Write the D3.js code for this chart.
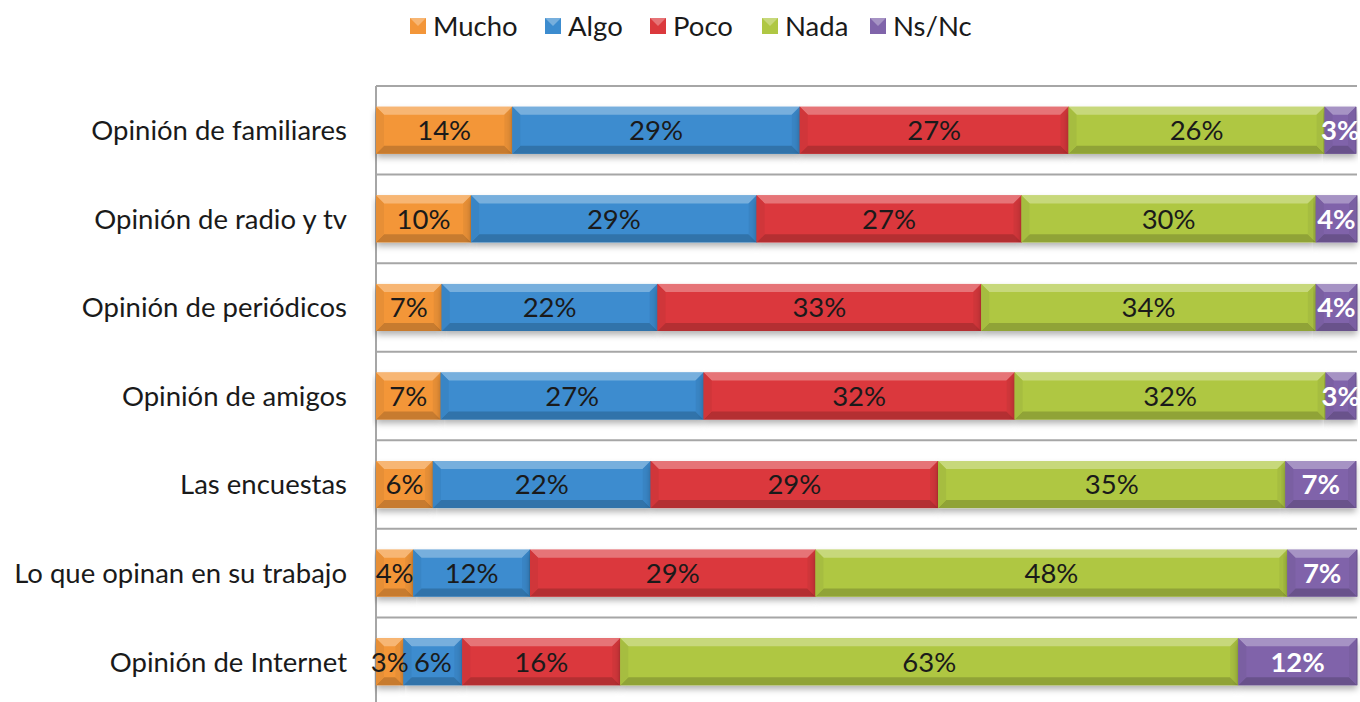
<!DOCTYPE html>
<html><head><meta charset="utf-8">
<script src="https://cdn.jsdelivr.net/npm/d3@7"></script>
<style>
html,body{margin:0;padding:0;background:#fff;}
svg{display:block;font-family:Lato,"Open Sans",sans-serif;}
</style></head>
<body><svg id="chart" width="1360" height="702"></svg>
<script>
const categories = ["Opinión de familiares","Opinión de radio y tv","Opinión de periódicos","Opinión de amigos","Las encuestas","Lo que opinan en su trabajo","Opinión de Internet"];
const seriesNames = ["Mucho","Algo","Poco","Nada","Ns/Nc"];
const mucho = [13.9, 9.7, 6.7, 6.6, 5.8, 3.8, 2.8];
const algo  = [29.3, 29.1, 22.0, 26.8, 22.2, 11.9, 6.0];
const poco  = [27.4, 27.0, 33.0, 31.7, 29.3, 29.1, 16.1];
const nada  = [26.1, 30.0, 34.1, 31.7, 35.4, 48.1, 63.0];
const nsnc  = [3.2, 4.2, 4.2, 3.1, 7.2, 7.1, 12.1];
const colors = ["#F39639","#3C8CCF","#DB393D","#AFC743","#8064AA"];

const seriesVals = [mucho, algo, poco, nada, nsnc];
const rows = categories.map((c,i)=>{const o={cat:c}; seriesNames.forEach((s,j)=>o[s]=seriesVals[j][i]); return o;});
const stack = d3.stack().keys(seriesNames)(rows);

const FS = 27.5;
const svg = d3.select("#chart");
const x = d3.scaleLinear().domain([0,100]).range([376,1357]);
const y = d3.scaleBand().domain(categories).range([86,706]).paddingInner(0.47).paddingOuter(0.235);

const defs = svg.append("defs");
const f = defs.append("filter").attr("id","sh").attr("x","-5%").attr("y","-30%").attr("width","110%").attr("height","180%");
f.append("feDropShadow").attr("dx",0).attr("dy",4).attr("stdDeviation",3).attr("flood-color","#000").attr("flood-opacity",0.3);

const step = y.step();
const bounds = d3.range(categories.length).map(i=>86+i*step);
svg.append("g").selectAll("line").data(bounds).join("line")
  .attr("x1",376).attr("x2",1357).attr("y1",d=>d).attr("y2",d=>d)
  .attr("stroke","#a6a6a6").attr("stroke-width",2);
svg.append("line").attr("x1",376).attr("x2",376).attr("y1",86).attr("y2",706).attr("stroke","#a6a6a6").attr("stroke-width",2);

const bev = 8;
stack.forEach((layer,j)=>{
  const light = d3.interpolateRgb(colors[j],"#fff")(0.3);
  const dark = d3.interpolateRgb(colors[j],"#000")(0.18);
  const side = d3.interpolateRgb(colors[j],"#000")(0.05);
  const g = svg.append("g");
  layer.forEach((d,i)=>{
    const x0 = x(d[0]), x1 = x(d[1]), y0 = y(categories[i]), h = y.bandwidth(), y1 = y0+h;
    const b = Math.min(bev, (x1-x0)/2);
    g.append("rect").attr("x",x0).attr("y",y0).attr("width",x1-x0).attr("height",h).attr("fill",colors[j]).attr("filter","url(#sh)");
    g.append("path").attr("d",`M${x0},${y0}L${x1},${y0}L${x1-b},${y0+bev}L${x0+b},${y0+bev}Z`).attr("fill",light);
    g.append("path").attr("d",`M${x0},${y1}L${x1},${y1}L${x1-b},${y1-bev}L${x0+b},${y1-bev}Z`).attr("fill",dark);
    g.append("path").attr("d",`M${x0},${y0}L${x0+b},${y0+bev}L${x0+b},${y1-bev}L${x0},${y1}Z`).attr("fill",side);
    g.append("path").attr("d",`M${x1},${y0}L${x1-b},${y0+bev}L${x1-b},${y1-bev}L${x1},${y1}Z`).attr("fill",side);
    g.append("line").attr("x1",x1).attr("x2",x1).attr("y1",y0).attr("y2",y1).attr("stroke",dark).attr("stroke-width",1);
  });
});

stack.forEach((layer,j)=>{
  svg.append("g").selectAll("text").data(layer).join("text")
    .attr("x",d=>(x(d[0])+x(d[1]))/2)
    .attr("y",(d,i)=>y(categories[i])+y.bandwidth()/2)
    .attr("dy","0.36em").attr("text-anchor","middle")
    .attr("font-size",FS)
    .attr("font-weight", j===4?700:400)
    .attr("fill", j===4?"#fff":"#1a1a1a")
    .text(d=>Math.round(d[1]-d[0])+"%");
});

svg.append("g").selectAll("text").data(categories).join("text")
  .attr("x",347).attr("y",d=>y(d)+y.bandwidth()/2).attr("dy","0.36em")
  .attr("text-anchor","end").attr("font-size",FS).attr("fill","#1a1a1a").text(d=>d);

const legX = [410,545,650,762,870];
const lg = svg.append("g");
seriesNames.forEach((s,j)=>{
  lg.append("rect").attr("x",legX[j]).attr("y",18).attr("width",16).attr("height",16).attr("fill",colors[j]);
  lg.append("path").attr("d",`M${legX[j]},18L${legX[j]+16},18L${legX[j]+8},26Z`).attr("fill",d3.interpolateRgb(colors[j],"#fff")(0.3));
  lg.append("text").attr("x",legX[j]+23).attr("y",26).attr("dy","0.36em").attr("font-size",FS).attr("fill","#1a1a1a").text(s);
});
</script></body></html>
